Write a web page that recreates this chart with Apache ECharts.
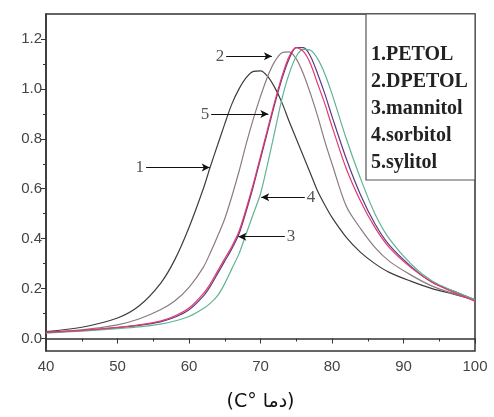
<!DOCTYPE html>
<html>
<head>
<meta charset="utf-8">
<script src="https://cdn.jsdelivr.net/npm/echarts@6/dist/echarts.min.js"></script>
<style>
  html, body { margin: 0; padding: 0; background: #fff; }
  #main { width: 494px; height: 417px; }
</style>
</head>
<body>
<div id="main"></div>
<script>
// temperature grid (°C)
const temps = [40, 45, 50, 53, 56, 58, 60, 62, 63, 64, 65, 66, 67, 68, 69, 70, 71, 72, 73, 74, 75, 76, 77, 78, 79, 80, 82, 84, 86, 88, 91, 94, 97, 100];

// curves
const petol = [0.028, 0.045, 0.082, 0.13, 0.22, 0.315, 0.445, 0.60, 0.69, 0.775, 0.86, 0.94, 1.00, 1.045, 1.07, 1.072, 1.05, 1.005, 0.945, 0.87, 0.80, 0.73, 0.66, 0.59, 0.535, 0.485, 0.405, 0.345, 0.30, 0.265, 0.23, 0.20, 0.178, 0.155];
const dpetol = [0.025, 0.035, 0.055, 0.078, 0.115, 0.15, 0.205, 0.285, 0.345, 0.41, 0.48, 0.57, 0.67, 0.78, 0.88, 0.97, 1.05, 1.11, 1.145, 1.148, 1.12, 1.06, 0.98, 0.89, 0.79, 0.70, 0.53, 0.44, 0.365, 0.31, 0.255, 0.21, 0.18, 0.155];
const mannitol = [0.025, 0.032, 0.044, 0.053, 0.067, 0.085, 0.115, 0.17, 0.21, 0.26, 0.31, 0.36, 0.42, 0.51, 0.61, 0.72, 0.83, 0.94, 1.04, 1.12, 1.165, 1.165, 1.13, 1.06, 0.98, 0.89, 0.72, 0.575, 0.46, 0.375, 0.29, 0.225, 0.19, 0.155];
const sorbitol = [0.022, 0.03, 0.04, 0.047, 0.058, 0.07, 0.088, 0.12, 0.142, 0.172, 0.22, 0.28, 0.34, 0.42, 0.50, 0.58, 0.70, 0.83, 0.96, 1.06, 1.13, 1.158, 1.155, 1.12, 1.06, 0.98, 0.80, 0.64, 0.50, 0.40, 0.30, 0.23, 0.19, 0.155];
const sylitol = [0.025, 0.033, 0.045, 0.055, 0.07, 0.09, 0.122, 0.18, 0.22, 0.27, 0.32, 0.37, 0.43, 0.52, 0.62, 0.73, 0.84, 0.95, 1.05, 1.13, 1.165, 1.15, 1.10, 1.02, 0.94, 0.85, 0.68, 0.55, 0.445, 0.365, 0.285, 0.225, 0.185, 0.15];

const seriesNames = ['1.PETOL', '2.DPETOL', '3.mannitol', '4.sorbitol', '5.sylitol'];
const seriesData = [petol, dpetol, mannitol, sorbitol, sylitol];
const colors = ['#3d3d3d', '#8b7b80', '#5c3a86', '#5fb394', '#e4386a'];

const yTicks = [0, 0.2, 0.4, 0.6, 0.8, 1.0, 1.2];
const yMinorTicks = [0.1, 0.3, 0.5, 0.7, 0.9, 1.1];

// numbered arrows: label, from [t, a], to [t, a]
const arrows = [
    ['1', [54.0, 0.685], [62.9, 0.685]],
    ['2', [65.2, 1.131], [71.6, 1.131]],
    ['5', [63.1, 0.899], [71.1, 0.899]],
    ['4', [76.2, 0.566], [70.1, 0.566]],
    ['3', [73.4, 0.408], [66.9, 0.408]]
];

let myChart = echarts.init(document.getElementById('main'));

let series = seriesData.map((vals, i) => ({
    name: seriesNames[i],
    type: 'line',
    smooth: 0.3,
    showSymbol: false,
    data: temps.map((t, k) => [t, vals[k]]),
    lineStyle: { color: colors[i], width: 1.2 },
    itemStyle: { color: colors[i] },
    z: 2
}));

// arrows as markLine on the first series
series[0].markLine = {
    silent: true,
    symbol: ['none', 'arrow'],
    symbolSize: [6, 8],
    lineStyle: { color: '#111', width: 1, type: 'solid' },
    label: {
        show: true,
        position: 'start',
        formatter: '{b}',
        color: '#555',
        fontFamily: 'Liberation Serif',
        fontSize: 17,
        distance: 2
    },
    data: arrows.map(a => [{ name: a[0], coord: a[1] }, { coord: a[2] }])
};

let legendChildren = [{
    type: 'rect',
    shape: { x: 366, y: 14, width: 109, height: 166 },
    style: { fill: '#fff', stroke: '#555', lineWidth: 1.2 }
}];
seriesNames.forEach((n, i) => {
    legendChildren.push({
        type: 'text',
        x: 371,
        y: 55 + i * 27,
        style: {
            text: n,
            fill: '#222',
            font: 'bold 20px "Liberation Serif"',
            verticalAlign: 'middle'
        }
    });
});

let option = {
    animation: false,
    backgroundColor: '#fff',
    grid: {
        left: 46, right: 19, top: 14, bottom: 62,
        show: true, borderColor: '#333', borderWidth: 1.5
    },
    xAxis: {
        type: 'value',
        min: 40, max: 100, interval: 10,
        name: '(C° دما)',
        nameLocation: 'middle',
        nameGap: 42,
        nameTextStyle: { color: '#111', fontSize: 19, fontFamily: 'DejaVu Sans' },
        axisLine: { lineStyle: { color: '#333', width: 1.5 } },
        axisTick: { length: 5, lineStyle: { color: '#333' } },
        minorTick: { show: true, splitNumber: 2, length: 3, lineStyle: { color: '#333' } },
        axisLabel: { color: '#444', fontSize: 15, fontFamily: 'Liberation Sans', margin: 8 },
        splitLine: { show: false }
    },
    yAxis: [{
        type: 'value',
        min: -0.05, max: 1.3,
        axisLine: { show: true, lineStyle: { color: '#333', width: 1.5 } },
        axisTick: { show: true, length: 5, customValues: yTicks, lineStyle: { color: '#333' } },
        axisLabel: {
            customValues: yTicks,
            color: '#444', fontSize: 15, fontFamily: 'Liberation Sans', margin: 4,
            formatter: v => v.toFixed(1)
        },
        splitLine: { show: false }
    }, {
        type: 'value',
        position: 'left',
        min: -0.05, max: 1.3,
        axisLine: { show: false },
        axisTick: { show: true, length: 3, customValues: yMinorTicks, lineStyle: { color: '#333' } },
        axisLabel: { show: false },
        splitLine: { show: false }
    }],
    graphic: [{ type: 'group', children: legendChildren }],
    series: series
};

myChart.setOption(option);
</script>
</body>
</html>
